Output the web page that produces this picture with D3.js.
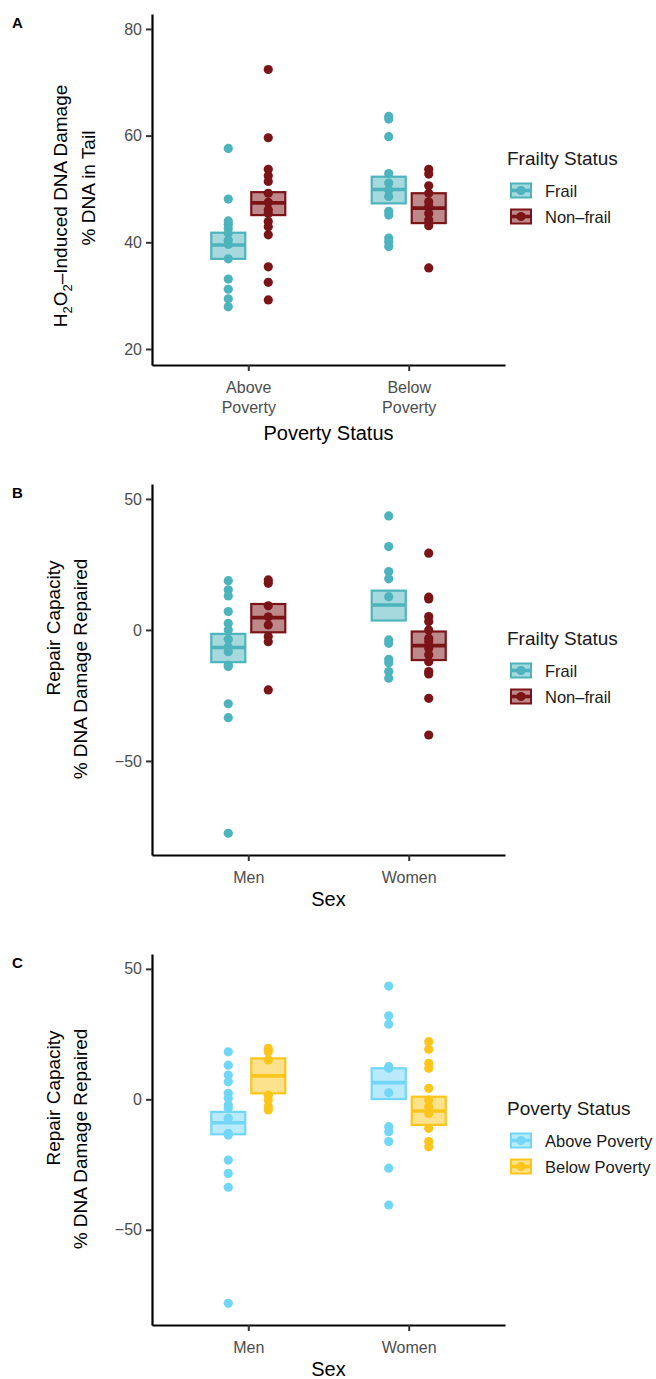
<!DOCTYPE html>
<html lang="en">
<head>
<meta charset="UTF-8">
<title>DNA damage and repair by frailty, poverty and sex</title>
<script src="https://cdn.jsdelivr.net/npm/d3@7/dist/d3.min.js"></script>
<style>
    body { margin: 0; background: #fff; }
    text { font-family: "Liberation Sans", Arial, sans-serif; }
</style>
</head>
<body>
<div id="fig"></div>
<script>
    // categories
    const povertyLevels = ["Above Poverty", "Below Poverty"];
    const frailtyLevels = ["Frail", "Non-frail"];
    const frailtyLabels = ["Frail", "Non\u2013frail"];
    const sexLevels = ["Men", "Women"];

    const ticksA = [20, 40, 60, 80];
    const ticksBC = [-50, 0, 50];

    // panel A: H2O2-induced damage (% DNA in tail)
    const aFrailAbove = [57.6, 48.1, 44.0, 43.4, 42.6, 41.7, 40.4, 39.6, 36.9, 33.1, 31.2, 29.4, 27.9];
    const aNonfrailAbove = [72.4, 59.6, 53.7, 52.5, 51.4, 49.2, 47.5, 46.1, 45.4, 43.9, 42.9, 41.4, 35.4, 32.5, 29.2];
    const aFrailBelow = [63.6, 63.1, 59.8, 52.9, 51.1, 49.8, 48.6, 45.8, 45.1, 40.8, 40.1, 39.2];
    const aNonfrailBelow = [53.7, 52.8, 50.6, 49.2, 47.6, 46.7, 45.4, 44.2, 43.1, 35.2];
    // boxes: lower, middle, upper
    const aBoxFrailAbove = [36.9, 39.5, 41.8];
    const aBoxNonfrailAbove = [45.1, 47.4, 49.4];
    const aBoxFrailBelow = [47.3, 49.9, 52.3];
    const aBoxNonfrailBelow = [43.6, 46.4, 49.2];

    // panel B: repair capacity by sex x frailty
    const bFrailMen = [18.8, 15.3, 13.0, 7.0, 2.5, 0, -3.6, -6.5, -8.3, -13.4, -14.0, -28.2, -33.5, -77.6];
    const bNonfrailMen = [19.1, 17.8, 9.2, 5.0, 1.9, -2.5, -4.5, -22.9];
    const bFrailWomen = [43.5, 31.8, 22.3, 19.5, 12.7, -3.8, -5.1, -11.2, -12.5, -15.9, -18.4];
    const bNonfrailWomen = [29.3, 12.5, 11.8, 5.1, 3.2, 0, -3.2, -4.5, -7.0, -9.5, -12.1, -15.9, -16.8, -26.1, -40.1];
    const bBoxFrailMen = [-12.3, -6.7, -1.5];
    const bBoxNonfrailMen = [-0.9, 4.7, 9.9];
    const bBoxFrailWomen = [3.6, 9.5, 15.0];
    const bBoxNonfrailWomen = [-11.5, -6.0, -0.6];

    // panel C: repair capacity by sex x poverty
    const cAboveMen = [18.2, 13.1, 9.3, 6.7, 2.3, 0.4, -2.2, -3.4, -7.3, -13.0, -13.7, -23.3, -28.4, -33.7, -78.2];
    const cBelowMen = [19.5, 18.2, 15.1, 1.6, -0.3, -2.8, -4.1];
    const cAboveWomen = [43.4, 32.0, 28.8, 12.5, 11.9, 2.5, -10.5, -12.4, -16.2, -26.4, -40.5];
    const cBelowWomen = [22.1, 19.2, 13.8, 11.9, 4.2, -0.3, -2.8, -5.4, -11.1, -16.2, -18.2];
    const cBoxAboveMen = [-13.4, -9.0, -4.8];
    const cBoxBelowMen = [2.3, 9.0, 15.7];
    const cBoxAboveWomen = [0.1, 6.4, 11.9];
    const cBoxBelowWomen = [-9.8, -4.5, 1.0];

    const frailtyColors = ["#4DB3BC", "#7B1417"];
    const povertyColors = ["#72D6F8", "#FCC51C"];

    const width = 656, height = 1379;
    const axisLeftX = 152, axisRightX = 505;

    const svg = d3.select("#fig").append("svg")
        .attr("width", width)
        .attr("height", height)
        .attr("viewBox", [0, 0, width, height]);

    function drawPanel(p) {
        const g = svg.append("g");

        const y = d3.scaleLinear().domain(p.yDomain).range([p.bottom, p.top]);
        const x = d3.scalePoint().domain(p.cats).range([axisLeftX, axisRightX]).padding(0.6);
        const dodge = d3.scaleBand().domain(p.groups).range([-40, 40]);
        const color = d3.scaleOrdinal().domain(p.groups).range(p.colors);
        const boxW = 34;

        // boxes (mean crossbars)
        p.boxes.forEach(b => {
            const cx = x(b.cat) + dodge(b.group) + dodge.bandwidth() / 2;
            const c = color(b.group);
            g.append("rect")
                .attr("x", cx - boxW / 2)
                .attr("y", y(b.v[2]))
                .attr("width", boxW)
                .attr("height", y(b.v[0]) - y(b.v[2]))
                .attr("fill", c)
                .attr("fill-opacity", 0.5)
                .attr("stroke", c)
                .attr("stroke-width", 2.2);
            g.append("line")
                .attr("x1", cx - boxW / 2)
                .attr("x2", cx + boxW / 2)
                .attr("y1", y(b.v[1]))
                .attr("y2", y(b.v[1]))
                .attr("stroke", c)
                .attr("stroke-width", 3.6);
        });

        // points
        p.points.forEach(s => {
            const cx = x(s.cat) + dodge(s.group) + dodge.bandwidth() / 2;
            g.append("g").selectAll("circle")
                .data(s.values)
                .join("circle")
                .attr("cx", cx)
                .attr("cy", d => y(d))
                .attr("r", 4.6)
                .attr("fill", color(s.group));
        });

        // axes
        const yAxis = g.append("g")
            .attr("transform", "translate(" + axisLeftX + ",0)")
            .call(d3.axisLeft(y).tickValues(p.yTicks).tickSize(6).tickSizeOuter(0).tickPadding(4));
        const xAxis = g.append("g")
            .attr("transform", "translate(0," + p.bottom + ")")
            .call(d3.axisBottom(x).tickSize(6).tickSizeOuter(0).tickPadding(7));

        [yAxis, xAxis].forEach(a => {
            a.select(".domain").attr("stroke", "#000").attr("stroke-width", 2.2);
            a.selectAll(".tick line").attr("stroke", "#333").attr("stroke-width", 2);
            a.selectAll(".tick text").attr("fill", "#4D4D4D").style("font-size", "16px");
        });

        xAxis.selectAll(".tick text").each(function (d) {
            const lines = p.xLabels[p.cats.indexOf(d)];
            const t = d3.select(this).text(null).attr("dy", null).attr("y", 28);
            lines.forEach((ln, i) => {
                t.append("tspan").attr("x", 0).attr("dy", i === 0 ? 0 : 20).text(ln);
            });
        });

        // axis titles
        g.append("text")
            .attr("x", (axisLeftX + axisRightX) / 2)
            .attr("y", p.bottom + p.xTitleDy)
            .attr("text-anchor", "middle")
            .style("font-size", "20px")
            .text(p.xTitle);

        p.yTitle.forEach(t => {
            const tx = g.append("text")
                .attr("transform", "translate(" + t.x + "," + t.cy + ") rotate(-90)")
                .attr("text-anchor", "middle")
                .attr("dominant-baseline", "central")
                .style("font-size", "19px");
            t.parts.forEach(part => {
                const ts = tx.append("tspan").text(part.s);
                if (part.sub) ts.attr("baseline-shift", "sub").style("font-size", "13px");
            });
        });

        // panel letter
        g.append("text")
            .attr("x", 12)
            .attr("y", p.top + 14)
            .style("font-size", "15px")
            .style("font-weight", "bold")
            .text(p.letter);

        // legend
        const lg = g.append("g");
        lg.append("text")
            .attr("x", 507)
            .attr("y", p.legendY)
            .style("font-size", "19px")
            .attr("fill", "#1a1a1a")
            .text(p.legendTitle);
        p.groups.forEach((grp, i) => {
            const cy = p.legendY + 25.5 + i * 26;
            const c = color(grp);
            lg.append("rect")
                .attr("x", 511).attr("y", cy - 7)
                .attr("width", 20).attr("height", 14)
                .attr("fill", c).attr("fill-opacity", 0.5)
                .attr("stroke", c).attr("stroke-width", 2);
            lg.append("line")
                .attr("x1", 511).attr("x2", 531)
                .attr("y1", cy).attr("y2", cy)
                .attr("stroke", c).attr("stroke-width", 3.6);
            lg.append("circle")
                .attr("cx", 521).attr("cy", cy).attr("r", 4.6)
                .attr("fill", c);
            lg.append("text")
                .attr("x", 545).attr("y", cy + 6)
                .style("font-size", "16.5px")
                .attr("fill", "#1a1a1a")
                .text(p.legendLabels[i]);
        });
    }

    drawPanel({
        letter: "A",
        top: 14, bottom: 365, yDomain: [17.0, 82.8], yTicks: ticksA,
        cats: povertyLevels, groups: frailtyLevels, colors: frailtyColors,
        xLabels: [["Above", "Poverty"], ["Below", "Poverty"]],
        xTitle: "Poverty Status", xTitleDy: 75,
        yTitle: [
            {x: 60, cy: 206, parts: [{s: "H"}, {s: "2", sub: true}, {s: "O"}, {s: "2", sub: true}, {s: "\u2013Induced DNA Damage"}]},
            {x: 88, cy: 188, parts: [{s: "% DNA in Tail"}]}
        ],
        legendTitle: "Frailty Status", legendLabels: frailtyLabels, legendY: 165,
        points: [
            {cat: povertyLevels[0], group: frailtyLevels[0], values: aFrailAbove},
            {cat: povertyLevels[0], group: frailtyLevels[1], values: aNonfrailAbove},
            {cat: povertyLevels[1], group: frailtyLevels[0], values: aFrailBelow},
            {cat: povertyLevels[1], group: frailtyLevels[1], values: aNonfrailBelow}
        ],
        boxes: [
            {cat: povertyLevels[0], group: frailtyLevels[0], v: aBoxFrailAbove},
            {cat: povertyLevels[0], group: frailtyLevels[1], v: aBoxNonfrailAbove},
            {cat: povertyLevels[1], group: frailtyLevels[0], v: aBoxFrailBelow},
            {cat: povertyLevels[1], group: frailtyLevels[1], v: aBoxNonfrailBelow}
        ]
    });

    drawPanel({
        letter: "B",
        top: 484, bottom: 855, yDomain: [-85.9, 55.7], yTicks: ticksBC,
        cats: sexLevels, groups: frailtyLevels, colors: frailtyColors,
        xLabels: [["Men"], ["Women"]],
        xTitle: "Sex", xTitleDy: 51,
        yTitle: [
            {x: 53, cy: 628, parts: [{s: "Repair Capacity"}]},
            {x: 80, cy: 669, parts: [{s: "% DNA Damage Repaired"}]}
        ],
        legendTitle: "Frailty Status", legendLabels: frailtyLabels, legendY: 645,
        points: [
            {cat: sexLevels[0], group: frailtyLevels[0], values: bFrailMen},
            {cat: sexLevels[0], group: frailtyLevels[1], values: bNonfrailMen},
            {cat: sexLevels[1], group: frailtyLevels[0], values: bFrailWomen},
            {cat: sexLevels[1], group: frailtyLevels[1], values: bNonfrailWomen}
        ],
        boxes: [
            {cat: sexLevels[0], group: frailtyLevels[0], v: bBoxFrailMen},
            {cat: sexLevels[0], group: frailtyLevels[1], v: bBoxNonfrailMen},
            {cat: sexLevels[1], group: frailtyLevels[0], v: bBoxFrailWomen},
            {cat: sexLevels[1], group: frailtyLevels[1], v: bBoxNonfrailWomen}
        ]
    });

    drawPanel({
        letter: "C",
        top: 954, bottom: 1325, yDomain: [-86.5, 55.7], yTicks: ticksBC,
        cats: sexLevels, groups: povertyLevels, colors: povertyColors,
        xLabels: [["Men"], ["Women"]],
        xTitle: "Sex", xTitleDy: 51,
        yTitle: [
            {x: 53, cy: 1098, parts: [{s: "Repair Capacity"}]},
            {x: 80, cy: 1139, parts: [{s: "% DNA Damage Repaired"}]}
        ],
        legendTitle: "Poverty Status", legendLabels: povertyLevels, legendY: 1115,
        points: [
            {cat: sexLevels[0], group: povertyLevels[0], values: cAboveMen},
            {cat: sexLevels[0], group: povertyLevels[1], values: cBelowMen},
            {cat: sexLevels[1], group: povertyLevels[0], values: cAboveWomen},
            {cat: sexLevels[1], group: povertyLevels[1], values: cBelowWomen}
        ],
        boxes: [
            {cat: sexLevels[0], group: povertyLevels[0], v: cBoxAboveMen},
            {cat: sexLevels[0], group: povertyLevels[1], v: cBoxBelowMen},
            {cat: sexLevels[1], group: povertyLevels[0], v: cBoxAboveWomen},
            {cat: sexLevels[1], group: povertyLevels[1], v: cBoxBelowWomen}
        ]
    });
</script>
</body>
</html>
